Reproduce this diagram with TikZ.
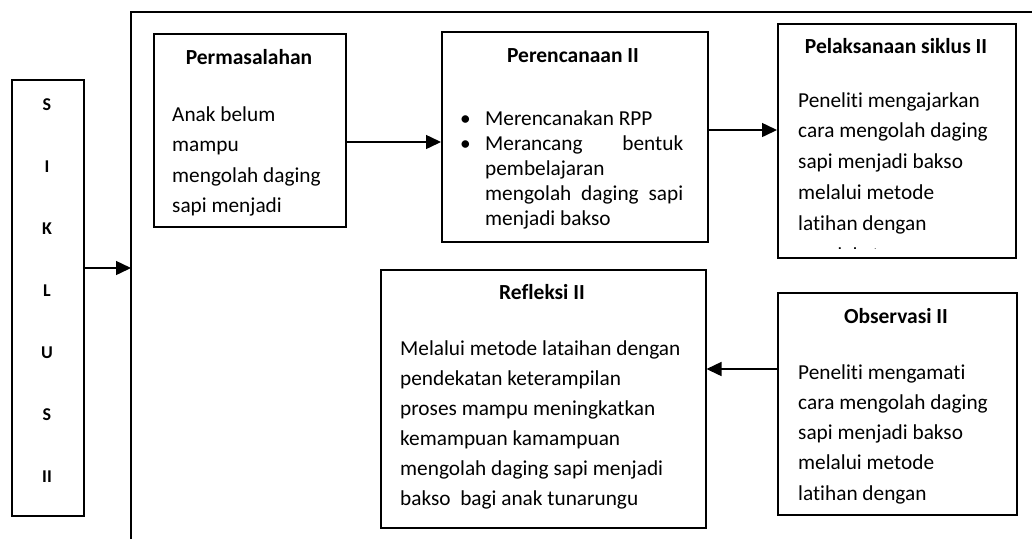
\documentclass[tikz,border=0pt]{standalone}
\usepackage{fontspec}
\setmainfont{Carlito}[Ligatures={NoCommon}]
\usetikzlibrary{arrows.meta}
\tikzset{
  boxnode/.style={draw, line width=1.5pt, rectangle, anchor=north west, inner sep=0pt},
  titletext/.style={font=\fontsize{21.5}{24}\selectfont\bfseries, inner sep=0pt, anchor=base},
  bodytext/.style={font=\fontsize{21.3}{30}\selectfont, inner sep=0pt, anchor=base west},
  arr/.style={line width=1.5pt, -{Triangle[length=15pt,width=14pt]}},
  letter/.style={font=\fontsize{18}{20}\selectfont\bfseries, inner sep=0pt}
}
\begin{document}
\begin{tikzpicture}[x=1pt,y=-1pt]
\useasboundingbox (0,0) rectangle (1032,539);
% frame
\draw[line width=1.5pt] (131,539) -- (131,12) -- (1032,12);
\coordinate (frameL) at (131,268);
% SIKLUS box
\node[boxnode, minimum width=72pt, minimum height=436pt] (sik) at (11,79) {};
\foreach \t/\yy/\nm in {S/105/l1, I/167/l2, K/229/l3, L/291/l4, U/353/l5, S/415/l6, II/477/l7}
  \node[letter] (\nm) at (47,\yy) {\t};
% boxes
\node[boxnode, minimum width=192pt, minimum height=193pt] (perm) at (153,33) {};
\node[boxnode, minimum width=266pt, minimum height=210pt] (pere) at (441,31) {};
\node[boxnode, minimum width=238pt, minimum height=234pt] (pel) at (777,23) {};
\node[boxnode, minimum width=325pt, minimum height=258pt] (ref) at (380,269) {};
\node[boxnode, minimum width=239pt, minimum height=222pt] (obs) at (777,292) {};
% titles
\node[titletext] (permT) at (249,64) {Permasalahan};
\node[titletext] (pereT) at (573,62) {Perencanaan II};
\node[titletext] (pelT) at (896,53) {Pelaksanaan siklus II};
\node[titletext] (refT) at (542,299) {Refleksi II};
\node[titletext] (obsT) at (896,323) {Observasi II};
% bodies
\node[bodytext] (permB) at (172,121) {\vtop{\baselineskip=30.5pt
  \hbox{Anak belum}\hbox{mampu}\hbox{mengolah daging}\hbox{sapi menjadi}}};
\node[bodytext] (pereB) at (460,125) {\vtop{\baselineskip=25pt
  \hbox to 223pt{\hbox to 25pt{\textbullet\hfil}Merencanakan RPP\hfil}
  \hbox to 223pt{\hbox to 25pt{\textbullet\hfil}Merancang\hfill bentuk}
  \hbox to 223pt{\hskip25pt pembelajaran\hfil}
  \hbox to 223pt{\hskip25pt mengolah\hfill daging\hfill sapi}
  \hbox to 223pt{\hskip25pt menjadi bakso\hfil}}};
\node[bodytext] (pelB) at (798,107) {\vtop{\baselineskip=30.8pt
  \hbox{Peneliti mengajarkan}\hbox{cara mengolah daging}\hbox{sapi menjadi bakso}\hbox{melalui metode}\hbox{latihan dengan}}};
\begin{scope}
  \clip (780,240) rectangle (1012,248.5);
  \node[bodytext] (pelC) at (798,262) {pendekatan};
\end{scope}
\node[bodytext] (refB) at (400,355) {\vtop{\baselineskip=30pt
  \hbox{Melalui metode lataihan dengan}\hbox{pendekatan keterampilan}\hbox{proses mampu meningkatkan}\hbox{kemampuan kamampuan}\hbox{mengolah daging sapi menjadi}\hbox{bakso\ \ bagi anak tunarungu}}};
\node[bodytext] (obsB) at (798,379) {\vtop{\baselineskip=30.3pt
  \hbox{Peneliti mengamati}\hbox{cara mengolah daging}\hbox{sapi menjadi bakso}\hbox{melalui metode}\hbox{latihan dengan}}};
% arrows
\draw[arr] (sik.east |- frameL) -- (frameL);
\draw[arr] (perm.east |- 0,142) -- (pere.west |- 0,142);
\draw[arr] (pere.east |- 0,130) -- (pel.west |- 0,130);
\draw[arr] (obs.west |- 0,369) -- (ref.east |- 0,369);
\end{tikzpicture}
\end{document}
